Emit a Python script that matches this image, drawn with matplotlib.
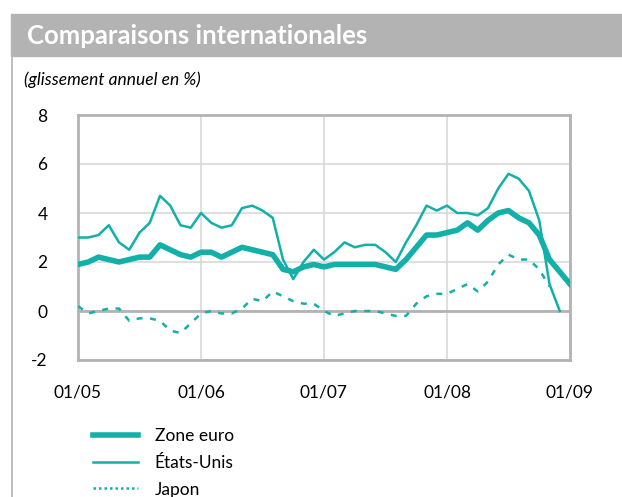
"""
Comparaisons internationales : glissement annuel des prix (en %)
Zone euro, Etats-Unis, Japon, mensuel de 01/05 a 01/09.
"""
import numpy as np
import matplotlib
matplotlib.use("Agg")
import matplotlib.pyplot as plt
from matplotlib.lines import Line2D
from matplotlib.patches import Rectangle

plt.rcParams["axes.unicode_minus"] = False

nan = np.nan

# months since 01/2005 (0 = 01/05, 48 = 01/09)
months = list(range(49))

zone_euro = [1.9, 2.0, 2.2, 2.1, 2.0, 2.1, 2.2, 2.2, 2.7, 2.5, 2.3, 2.2,
             2.4, 2.4, 2.2, 2.4, 2.6, 2.5, 2.4, 2.3, 1.7, 1.6, 1.8, 1.9,
             1.8, 1.9, 1.9, 1.9, 1.9, 1.9, 1.8, 1.7, 2.1, 2.6, 3.1, 3.1,
             3.2, 3.3, 3.6, 3.3, 3.7, 4.0, 4.1, 3.8, 3.6, 3.1, 2.1, 1.6,
             1.1]

etats_unis = [3.0, 3.0, 3.1, 3.5, 2.8, 2.5, 3.2, 3.6, 4.7, 4.3, 3.5, 3.4,
              4.0, 3.6, 3.4, 3.5, 4.2, 4.3, 4.1, 3.8, 2.1, 1.3, 2.0, 2.5,
              2.1, 2.4, 2.8, 2.6, 2.7, 2.7, 2.4, 2.0, 2.8, 3.5, 4.3, 4.1,
              4.3, 4.0, 4.0, 3.9, 4.2, 5.0, 5.6, 5.4, 4.9, 3.7, 1.1, 0.0,
              nan]

japon = [0.2, -0.1, 0.0, 0.1, 0.1, -0.4, -0.3, -0.3, -0.4, -0.8, -0.9, -0.5,
         -0.1, 0.0, -0.1, -0.1, 0.1, 0.5, 0.4, 0.8, 0.6, 0.4, 0.3, 0.3,
         0.0, -0.2, -0.1, 0.0, 0.0, 0.0, -0.1, -0.2, -0.2, 0.3, 0.6, 0.7,
         0.7, 0.9, 1.1, 0.8, 1.2, 1.9, 2.3, 2.1, 2.1, 1.7, 1.0, nan,
         nan]

x_ticks = [0, 12, 24, 36, 48]
x_labels = ["01/05", "01/06", "01/07", "01/08", "01/09"]
y_ticks = [-2, 0, 2, 4, 6, 8]

TEAL = "#12b0a9"
FRAME = "#b3b3b3"
GRID = "#d6d6d6"
FONT = "Lato"

fig = plt.figure(figsize=(6.22, 4.97), dpi=100)

# header band + left border
fig.patches.append(Rectangle((11 / 622, 1 - 56 / 497), 1 - 11 / 622, 42 / 497,
                             transform=fig.transFigure, color=FRAME, zorder=0))
fig.add_artist(Line2D([12 / 622, 12 / 622], [0, 1 - 56 / 497],
                      transform=fig.transFigure, color=FRAME, lw=1.2))
fig.text(27 / 622, 1 - 36 / 497, "Comparaisons internationales", color="white",
         fontsize=18.5, fontweight="bold", family=FONT, va="center", ha="left")
fig.text(24 / 622, 1 - 80 / 497, "(glissement annuel en %)", fontsize=12.5,
         style="italic", family=FONT, va="center", ha="left")

ax = fig.add_axes([78 / 622, 1 - 360 / 497, 492 / 622, 245 / 497])
ax.plot(months, zone_euro, color=TEAL, lw=4, solid_joinstyle="round", zorder=4)
ax.plot(months, etats_unis, color=TEAL, lw=1.8, zorder=3)
ax.plot(months, japon, color=TEAL, lw=1.8, linestyle=(0, (2.4, 3)), zorder=3)

ax.set_xlim(0, 48)
ax.set_ylim(-2, 8)
ax.set_xticks(x_ticks)
ax.set_xticklabels(x_labels)
ax.set_yticks(y_ticks)
ax.grid(True, color=GRID, lw=1.1)
ax.set_axisbelow(True)
ax.axhline(0, color=FRAME, lw=2, zorder=2)
for s in ax.spines.values():
    s.set_color(FRAME)
    s.set_linewidth(2)
ax.tick_params(length=0, labelsize=12.5)
ax.tick_params(axis="x", pad=18)
ax.tick_params(axis="y", pad=22)
for lab in ax.get_xticklabels() + ax.get_yticklabels():
    lab.set_family(FONT)

handles = [Line2D([], [], color=TEAL, lw=4),
           Line2D([], [], color=TEAL, lw=1.8),
           Line2D([], [], color=TEAL, lw=1.8, linestyle=(0, (1, 1.2)))]
fig.legend(handles, ["Zone euro", "États-Unis", "Japon"], loc="upper left",
           bbox_to_anchor=(93 / 622, 1 - 428 / 497), frameon=False,
           prop={"family": FONT, "size": 12.5}, handlelength=2.6,
           handletextpad=0.95, labelspacing=0.62, borderaxespad=0,
           borderpad=0)

fig.savefig("out.png", dpi=100)
